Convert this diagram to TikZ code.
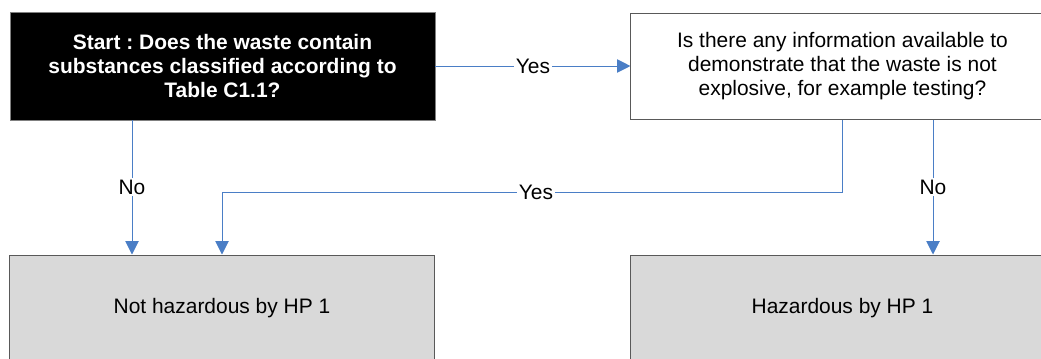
\documentclass[tikz,border=0pt]{standalone}
\usepackage{fontspec}
\setmainfont{Liberation Sans}
\usetikzlibrary{arrows.meta}
\definecolor{linkblue}{HTML}{4A7EC6}
\definecolor{boxgray}{HTML}{D9D9D9}
\definecolor{edgegray}{HTML}{595959}
\frenchspacing
\begin{document}
\begin{tikzpicture}[x=0.025cm, y=-0.025cm,
        every node/.style={font=\fontsize{14.9}{17.2}\selectfont, align=center, inner sep=0pt},
        startbox/.style={draw=gray, fill=black, text=white, font=\fontsize{14.9}{17.2}\selectfont\bfseries,
            minimum width=10.625cm, minimum height=2.7cm, line width=0.6pt},
        askbox/.style={draw=edgegray, fill=white, minimum width=10.575cm, minimum height=2.65cm, line width=0.7pt},
        endbox/.style={draw=edgegray, fill=boxgray, minimum width=10.6cm, minimum height=2.675cm, line width=0.7pt},
        link/.style={draw=linkblue, line width=0.7pt, -{Triangle[width=9.5pt,length=9.5pt]}},
        lbl/.style={fill=white, inner sep=1.2pt}]
        \useasboundingbox (0,0) rectangle (1041,358);
        \clip (0,0) rectangle (1041,358);
        % boxes
        \node[startbox] (start) at (222.5,66) {Start : Does the waste contain\\substances classified according to\\Table C1.1?};
        \node[askbox] (ask) at (842.5,66) {Is there any information available to\\demonstrate that the waste is not\\explosive, for example testing?};
        \node[endbox] (nothaz) at (222,308.5) {Not hazardous by HP 1};
        \node[endbox] (haz) at (842.5,308.5) {Hazardous by HP 1};
        \coordinate (nox) at (132,0);
        \coordinate (hazx) at (933,0);
        % arrows
        \draw[link] (start) -- node[lbl] {Yes} (ask);
        \draw[link] (start.south -| nox) -- node[lbl] {No} (nothaz.north -| nox);
        \draw[link] (ask.south) -- ++(0,73) -| node[pos=0.247, lbl] {Yes} (nothaz.north);
        \draw[link] (ask.south -| hazx) -- node[lbl] {No} (haz.north -| hazx);
\end{tikzpicture}
\end{document}
